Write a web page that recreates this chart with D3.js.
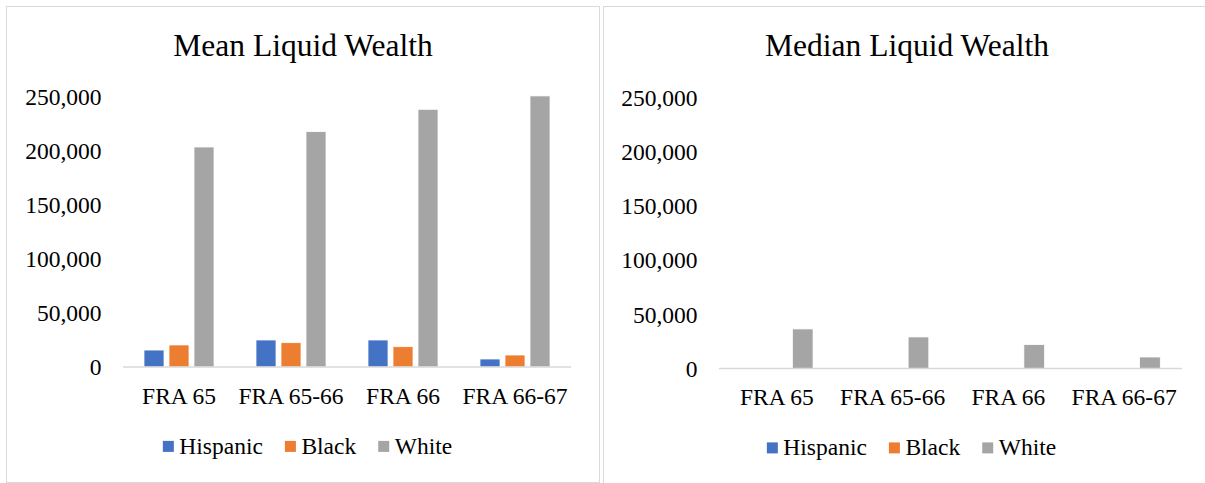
<!DOCTYPE html>
<html>
<head>
<meta charset="utf-8">
<script src="https://cdn.jsdelivr.net/npm/d3@7"></script>
<style>
  body { margin: 0; background: #fff; }
  svg text { font-family: "Liberation Serif", "Times New Roman", "DejaVu Serif", serif; fill: #000; }
</style>
</head>
<body>
<svg id="chart" width="1205" height="483" font-family="Liberation Serif, serif"></svg>
<script>
const categories = ['FRA 65', 'FRA 65-66', 'FRA 66', 'FRA 66-67'];
const seriesNames = ['Hispanic', 'Black', 'White'];
const seriesColors = ['#4472C4', '#ED7D31', '#A5A5A5'];
const yTicks = [0, 50000, 100000, 150000, 200000, 250000];

const meanHispanic = [15700, 25000, 25000, 7400];
const meanBlack = [20400, 22500, 18800, 11100];
const meanWhite = [203700, 217900, 238600, 251000];

const medianHispanic = [0, 0, 0, 0];
const medianBlack = [0, 0, 0, 0];
const medianWhite = [36500, 29100, 22000, 10600];

const svg = d3.select('#chart');
const fmt = d3.format(',');
const FONT = '"Liberation Serif", "Times New Roman", serif';

const drawPanel = (opts) => {
    const { box, plot, title, values } = opts;
    const g = svg.append('g');

    g.append('rect')
        .attr('x', box.x).attr('y', box.y)
        .attr('width', box.w).attr('height', box.h)
        .attr('fill', '#fff')
        .attr('stroke', '#d9d9d9')
        .attr('stroke-width', 1);

    const cx = box.x + box.w / 2;

    g.append('text')
        .attr('x', cx).attr('y', 56)
        .attr('text-anchor', 'middle')
        .style('font-family', FONT)
        .style('font-size', '31.5px')
        .text(title);

    const x0 = d3.scaleBand()
        .domain(categories)
        .range([plot.left, plot.right])
        .paddingInner(0).paddingOuter(0);

    const x1 = d3.scaleBand()
        .domain(seriesNames)
        .range([0, x0.bandwidth()])
        .paddingInner(0.2).paddingOuter(0.84);

    const y = d3.scaleLinear()
        .domain([0, 250000])
        .range([plot.bottom, plot.top]);

    // value labels only, Excel style: no axis line, no gridlines
    g.selectAll('.ylab')
        .data(yTicks)
        .join('text')
        .attr('class', 'ylab')
        .attr('x', plot.left - 21.5)
        .attr('y', d => y(d))
        .attr('dy', '0.35em')
        .attr('text-anchor', 'end')
        .style('font-family', FONT)
        .style('font-size', '23.5px')
        .text(d => fmt(d));

    const rows = categories.map((c, i) => ({
        cat: c,
        vals: seriesNames.map((s, j) => ({ s, v: values[j][i], color: seriesColors[j] }))
    }));

    const groups = g.selectAll('.grp')
        .data(rows)
        .join('g')
        .attr('class', 'grp')
        .attr('transform', d => `translate(${x0(d.cat)},0)`);

    groups.selectAll('rect')
        .data(d => d.vals.filter(e => e.v > 0))
        .join('rect')
        .attr('x', d => x1(d.s))
        .attr('y', d => y(d.v))
        .attr('width', x1.bandwidth())
        .attr('height', d => y(0) - y(d.v))
        .attr('fill', d => d.color)
        .attr('stroke', '#fff')
        .attr('stroke-width', 0.75);

    // category axis
    g.append('line')
        .attr('x1', plot.left).attr('x2', plot.right)
        .attr('y1', y(0)).attr('y2', y(0))
        .attr('stroke', '#d9d9d9')
        .attr('stroke-width', 1.3);

    g.selectAll('.xlab')
        .data(categories)
        .join('text')
        .attr('class', 'xlab')
        .attr('x', d => x0(d) + x0.bandwidth() / 2)
        .attr('y', y(0) + 36.5)
        .attr('text-anchor', 'middle')
        .style('font-family', FONT)
        .style('font-size', '23.5px')
        .text(d => d);

    // legend, centred under the chart
    const leg = g.append('g');
    let pos = 0;
    seriesNames.forEach((s, i) => {
        const item = leg.append('g').attr('transform', `translate(${pos},0)`);
        item.append('rect')
            .attr('x', 0).attr('y', -12.6)
            .attr('width', 11).attr('height', 11)
            .attr('fill', seriesColors[i]);
        const t = item.append('text')
            .attr('x', 16.5).attr('y', 0)
            .style('font-family', FONT)
            .style('font-size', '23.5px')
            .text(s);
        pos += 16.5 + t.node().getComputedTextLength() + 22;
    });
    const legW = pos - 22;
    leg.attr('transform', `translate(${cx + 4.5 - legW / 2},${plot.bottom + 86.5})`);
};

drawPanel({
    box: { x: 6.5, y: 6.5, w: 593, h: 476 },
    plot: { left: 123, right: 571, top: 97, bottom: 367 },
    title: 'Mean Liquid Wealth',
    values: [meanHispanic, meanBlack, meanWhite]
});

drawPanel({
    box: { x: 603.5, y: 6.5, w: 607, h: 480 },
    plot: { left: 719, right: 1182, top: 97.5, bottom: 368.5 },
    title: 'Median Liquid Wealth',
    values: [medianHispanic, medianBlack, medianWhite]
});
</script>
</body>
</html>
